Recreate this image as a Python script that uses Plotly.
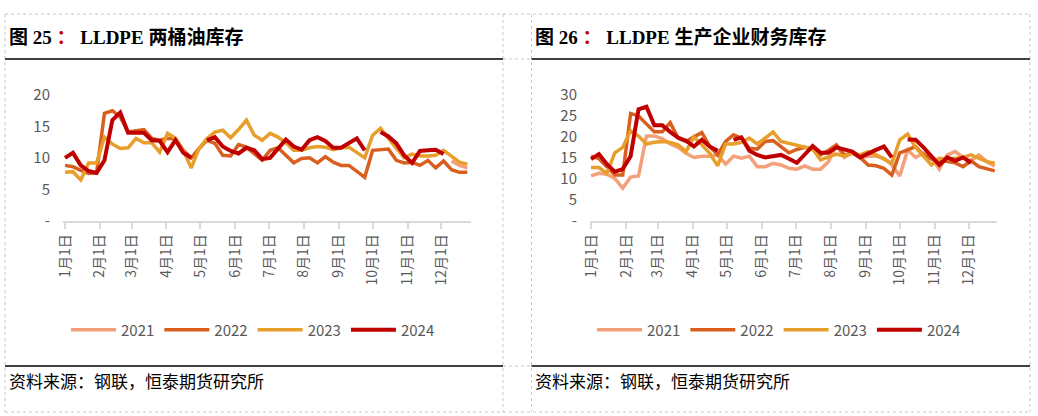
import datetime as dt
import plotly.graph_objects as go

# ---------------- data ----------------
years = ["2021", "2022", "2023", "2024"]
colors = ["#F4A07A", "#D95F1E", "#E89E2A", "#C00000"]
widths = [3.5, 3.5, 3.5, 4]

N = None
# Figure 25: LLDPE two-oil inventory (weekly)
left_2021 = [N]*49 + [9.5, 8.8, 8.4]
left_2022 = [8.8, 8.6, 8.0, 7.5, 7.6, 17.1, 17.5, 16.5, 14.1, 14.3, 14.5, 13.1, 12.8, 13.1, 13.0, 11.2,
             10.0, 11.5, 12.8, 12.3, 10.4, 10.3, 12.1, 11.7, 10.7, 9.6, 11.2, 11.6, 10.4, 9.2, 9.9, 10.0,
             9.2, 10.2, 9.3, 8.8, 8.8, 7.9, 6.9, 11.2, 11.3, 11.4, 9.6, 9.2, 9.3, 8.8, 9.6, 8.4,
             9.5, 8.1, 7.7, 7.7]
left_2023 = [7.7, 7.8, 6.5, 9.2, 9.2, 13.3, 12.2, 11.5, 11.6, 13.1, 12.4, 12.4, 10.9, 13.9, 13.1, 11.2,
             8.4, 11.5, 13.1, 14.1, 14.4, 13.2, 14.5, 16.0, 13.6, 12.8, 13.9, 13.3, 12.4, 11.2, 11.2, 11.6,
             11.8, 11.7, 11.3, 11.6, 11.7, 10.9, 10.0, 13.6, 14.7, 13.1, 11.5, 10.0, 10.6, 10.3, 10.3, 10.4,
             11.2, 10.2, 9.3, 9.0]
left_2024 = [10.0, 10.8, 8.8, 7.9, 7.6, 9.6, 16.0, 17.2, 14.0, 14.0, 14.0, 12.8, 12.7, 10.9, 12.8, 10.8,
             10.0, N, 12.8, 13.3, 11.8, 11.1, 10.7, 11.6, 11.2, 9.8, 10.0, 11.5, 12.9, 11.8, 11.3, 12.8,
             13.3, 12.7, 11.6, 11.6, 12.4, 13.1, 11.2, N, 14.1, 13.4, 12.3, 10.4, 9.2, 11.1, 11.2, 11.3,
             10.6]

# Figure 26: LLDPE producer finished-goods inventory (weekly)
right_2021 = [10.7, 11.3, 11.1, 10.1, 7.8, 10.4, 10.7, 20.2, 20.2, 19.6, 18.3, 17.5, 16.1, 15.1, 15.4, 15.4,
              15.7, 13.5, 15.4, 14.9, 15.4, 12.9, 12.9, 13.7, 13.3, 12.5, 12.3, 13.1, 12.3, 12.3, 14.1, 18.1,
              15.1, 16.2, 15.1, 15.4, 15.4, 14.9, 13.3, 10.7, 16.9, 15.1, 16.1, 15.1, 12.3, 15.7, 16.5, 15.1,
              14.3, 15.7, 14.1, 13.0]
right_2022 = [15.4, 14.8, 12.9, 10.9, 10.9, 25.6, 25.0, 23.2, 21.2, 21.2, 23.4, 19.7, 18.9, 20.0, 21.0, 17.7,
              15.7, 18.9, 20.5, 19.7, 17.3, 17.1, 18.9, 19.1, 17.7, 16.2, 17.0, 17.5, 17.1, 15.7, 16.8, 18.1,
              15.7, 16.1, 15.1, 13.3, 13.1, 12.5, 10.9, 16.2, 16.9, 17.7, 15.7, 14.7, 14.5, 14.1, 13.8, 12.9,
              14.3, 12.9, 12.5, 11.9]
right_2023 = [12.7, 12.7, 11.3, 16.2, 17.5, 21.5, 20.2, 18.3, 18.7, 18.9, 18.7, 18.1, 16.5, 20.0, 18.1, 16.1,
              13.1, 18.3, 18.3, 18.7, 19.7, 18.3, 19.7, 21.2, 18.9, 18.5, 18.1, 17.5, 17.1, 14.5, 15.1, 15.9,
              15.4, 16.2, 15.7, 16.5, 15.7, 14.7, 13.7, 19.3, 20.7, 17.5, 15.4, 13.3, 14.9, 14.7, 14.9, 15.1,
              15.7, 14.9, 14.1, 13.7]
right_2024 = [14.7, 15.9, 13.5, 11.7, 12.3, 15.4, 26.6, 27.2, 22.8, 22.8, 21.2, 19.8, 19.1, 17.7, 19.3, 17.7,
              16.7, N, 19.3, 19.9, 16.7, 15.7, 15.1, 15.5, 15.7, 14.8, 13.8, 15.8, 17.8, 16.2, 16.2, 17.5,
              17.1, 16.5, 15.1, 16.1, 16.9, 17.7, 15.1, N, 19.4, 19.3, 17.5, 15.3, 13.3, 15.1, 14.3, 15.1,
              13.8]

month_ticks = ["2023-%02d-01" % m for m in range(1, 13)]
month_labels = ["%d月1日" % m for m in range(1, 13)]
left_yticks = [0, 5, 10, 15, 20]
left_ylabels = ["-", "5", "10", "15", "20"]
right_yticks = [0, 5, 10, 15, 20, 25, 30]
right_ylabels = ["-", "5", "10", "15", "20", "25", "30"]

title_left = "图 25 <span style='color:#C00000'>：</span> LLDPE 两桶油库存"
title_right = "图 26 <span style='color:#C00000'>：</span> LLDPE 生产企业财务库存"
source_text = "资料来源：钢联，恒泰期货研究所"

# ---------------- figure ----------------
W, H = 1038, 416
base = dt.date(2023, 1, 1)


def week_dates(n):
    return [base + dt.timedelta(days=7 * k) for k in range(n)]


fig = go.Figure()
left_series = [left_2021, left_2022, left_2023, left_2024]
right_series = [right_2021, right_2022, right_2023, right_2024]
for i, ys in enumerate(left_series):
    fig.add_trace(go.Scatter(x=week_dates(len(ys)), y=ys, mode="lines", name=years[i],
                             line=dict(color=colors[i], width=widths[i]), connectgaps=False,
                             xaxis="x", yaxis="y", legend="legend"))
for i, ys in enumerate(right_series):
    fig.add_trace(go.Scatter(x=week_dates(len(ys)), y=ys, mode="lines", name=years[i],
                             line=dict(color=colors[i], width=widths[i]), connectgaps=False,
                             xaxis="x2", yaxis="y2", legend="legend2"))


def px(x):
    return x / W


def py(y):
    return 1 - y / H


tick_font = dict(family="Noto Sans CJK SC, Liberation Sans, sans-serif", size=14, color="#595959")

xcommon = dict(type="date", showgrid=False, zeroline=False, showline=True, linecolor="#D9D9D9",
               linewidth=2, ticks="outside", ticklen=6, tickwidth=2, tickcolor="#D9D9D9",
               tickvals=month_ticks, ticktext=month_labels, tickangle=-90, tickfont=tick_font,
               fixedrange=True, automargin=False)
ycommon = dict(showgrid=False, zeroline=False, showline=False, ticks="outside", ticklen=9,
               tickcolor="rgba(0,0,0,0)", tickfont=dict(tick_font, size=15), fixedrange=True,
               automargin=False)
legend_common = dict(orientation="h", xanchor="center", yanchor="middle", itemwidth=45,
                     font=dict(family="Noto Sans CJK SC, sans-serif", size=15, color="#595959"),
                     bgcolor="rgba(0,0,0,0)")

fig.update_layout(
    template="none",
    width=W, height=H, margin=dict(l=0, r=0, t=0, b=0, pad=0, autoexpand=False),
    paper_bgcolor="white", plot_bgcolor="white",
    xaxis=dict(xcommon, domain=[px(63), px(471)], anchor="y",
               range=["2022-12-30 05:00", "2023-12-27 07:00"]),
    yaxis=dict(ycommon, domain=[py(220.7), py(95)], anchor="x", range=[0, 20],
               tickvals=left_yticks, ticktext=left_ylabels),
    xaxis2=dict(xcommon, domain=[px(590), px(997)], anchor="y2",
                range=["2022-12-31 02:00", "2023-12-26 00:00"]),
    yaxis2=dict(ycommon, domain=[py(220.7), py(95)], anchor="x2", range=[0, 30],
                tickvals=right_yticks, ticktext=right_ylabels),
    legend=dict(legend_common, x=px(253), y=py(330)),
    legend2=dict(legend_common, x=px(779), y=py(330)),
    showlegend=True,
)

dash = dict(color="#C8C8C8", width=1, dash="dot")
solid = dict(color="black", width=1.5)
shapes = []


def hline(x0, x1, y, line):
    shapes.append(dict(type="line", xref="paper", yref="paper", x0=px(x0), x1=px(x1),
                       y0=py(y), y1=py(y), line=line))


def vline(x, y0, y1, line):
    shapes.append(dict(type="line", xref="paper", yref="paper", x0=px(x), x1=px(x),
                       y0=py(y0), y1=py(y1), line=line))


hline(5, 1030, 14, dash)
hline(5, 1030, 412, dash)
for xv in (5, 503, 531.5, 1030):
    vline(xv, 14, 412, dash)
hline(503, 531.5, 59, dash)
hline(503, 531.5, 366, dash)
hline(5, 503, 59, solid)
hline(5, 503, 366, solid)
hline(531.5, 1030, 59, solid)
hline(531.5, 1030, 366, solid)
fig.update_layout(shapes=shapes)

title_font = dict(family="Liberation Serif, Noto Sans CJK SC, serif", size=19, color="black")
src_font = dict(family="Liberation Serif, Noto Sans CJK SC, serif", size=17, color="black")
ann = [
    dict(text="<b>" + title_left + "</b>", x=px(7), y=py(37), xanchor="left", yanchor="middle",
         font=title_font),
    dict(text="<b>" + title_right + "</b>", x=px(533), y=py(37), xanchor="left", yanchor="middle",
         font=title_font),
    dict(text=source_text, x=px(7), y=py(382), xanchor="left", yanchor="middle", font=src_font),
    dict(text=source_text, x=px(533), y=py(382), xanchor="left", yanchor="middle", font=src_font),
]
for a in ann:
    a.update(xref="paper", yref="paper", showarrow=False)
fig.update_layout(annotations=ann)

fig.write_html("out.html", config={"displayModeBar": False},
               post_script="document.body.style.margin='0px';document.body.style.overflow='hidden';")
